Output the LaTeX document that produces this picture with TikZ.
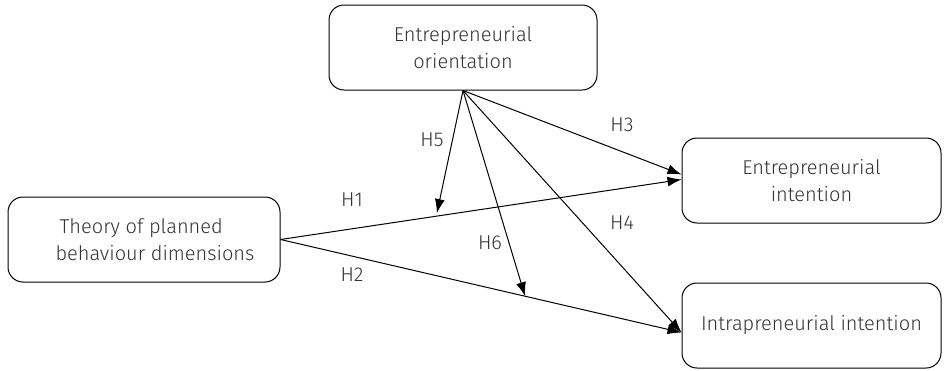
\documentclass[tikz,border=0pt]{standalone}
\usepackage{fontspec}
\setmainfont{Fira Sans}[UprightFont=* Light]
\usetikzlibrary{arrows.meta, positioning}

\begin{document}
\begin{tikzpicture}[
    x=1pt, y=-1pt,
    every node/.style={font=\fontsize{20}{27}\selectfont, text=black!80},
    box/.style={draw, rounded corners=15pt, line width=1pt, minimum width=262pt, minimum height=85pt, align=center},
    ar/.style={-{Latex[length=14pt, width=10pt]}, line width=1pt},
    lab/.style={inner sep=0pt}
]
\useasboundingbox (0,0) rectangle (945,370);
% boxes
\node[box, minimum width=268pt] (eo) at (463,47.5) {Entrepreneurial\\orientation};
\node[box, minimum width=272pt, align=left] (tpb) at (144,239.5) {\hspace*{26pt}Theory of planned\\\hspace*{22pt}behaviour dimensions};
\node[box, minimum width=259pt] (ei) at (811.5,180.5) {Entrepreneurial\\intention};
\node[box, minimum width=259pt] (ii) at (811.5,325.5) {Intrapreneurial intention};
% points on the direct paths (for moderation)
\path (tpb.east) -- ([yshift=1pt]ei.west) coordinate[pos=0.39] (m1);
\path (tpb.east) -- ([yshift=-7pt]ii.west) coordinate[pos=0.61] (m2);
% direct effects
\draw[ar] (tpb.east) -- ([yshift=1pt]ei.west);
\draw[ar] (tpb.east) -- ([yshift=-7pt]ii.west);
\draw[ar] (eo.south) -- ([yshift=6pt]ei.west);
\draw[ar] (eo.south) -- ([yshift=-7pt]ii.west);
% moderating effects
\draw[ar] (eo.south) -- ([yshift=3pt]m1);
\draw[ar] (eo.south) -- (m2);
% labels
\node[lab] (h1) at (352,200) {H1};
\node[lab] (h2) at (352,275) {H2};
\node[lab] (h3) at (622,125) {H3};
\node[lab] (h4) at (622,223) {H4};
\node[lab] (h5) at (432,140) {H5};
\node[lab] (h6) at (490,243) {H6};
\end{tikzpicture}
\end{document}
